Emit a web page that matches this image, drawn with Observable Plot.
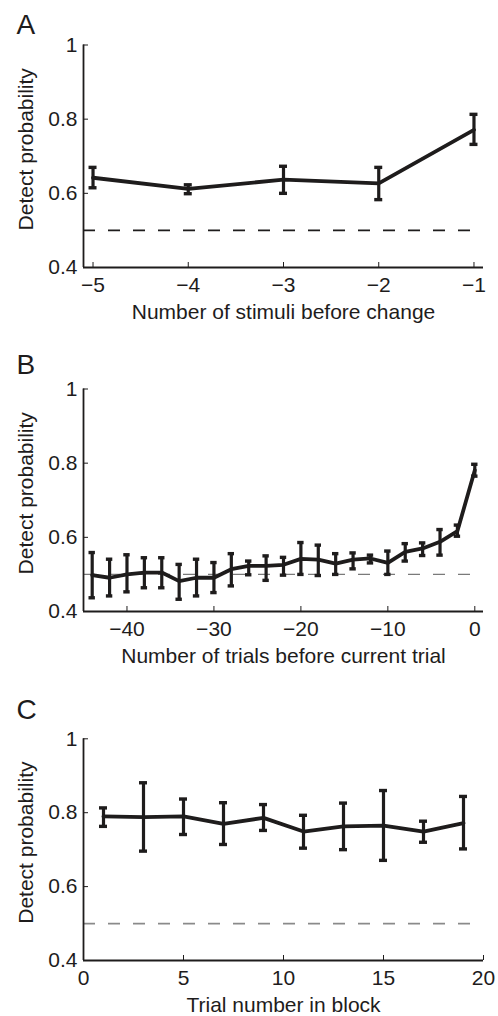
<!DOCTYPE html>
<html><head><meta charset="utf-8">
<script src="https://cdn.jsdelivr.net/npm/d3@7"></script>
<script src="https://cdn.jsdelivr.net/npm/@observablehq/plot@0.6"></script>
<style>
body{margin:0;background:#fff;width:498px;height:1016px;overflow:hidden}
#chart>div{line-height:0}
svg{display:block}
</style></head><body><div id="chart"></div>
<script>
// shared
const yTicks = [0.4, 0.6, 0.8, 1];
const yDomain = [0.4, 1];
const chance = 0.5;
const yLabel = "Detect probability";

// Panel A
const aLetter = "A";
const aX = [-5, -4, -3, -2, -1];
const aMean = [0.642, 0.612, 0.637, 0.627, 0.771];
const aLow = [0.615, 0.599, 0.600, 0.583, 0.732];
const aHigh = [0.670, 0.623, 0.673, 0.670, 0.813];
const aTicks = [-5, -4, -3, -2, -1];
const aDomain = [-5.1, -0.9];
const aLabel = "Number of stimuli before change";

// Panel B
const bLetter = "B";
const bX = [-44, -42, -40, -38, -36, -34, -32, -30, -28, -26, -24, -22, -20, -18, -16, -14, -12, -10, -8, -6, -4, -2, 0];
const bMean = [0.498, 0.491, 0.500, 0.505, 0.505, 0.482, 0.491, 0.491, 0.514, 0.523, 0.523, 0.526, 0.542, 0.540, 0.529, 0.540, 0.543, 0.531, 0.561, 0.570, 0.588, 0.617, 0.781];
const bLow = [0.437, 0.442, 0.453, 0.464, 0.464, 0.433, 0.442, 0.451, 0.469, 0.499, 0.484, 0.498, 0.500, 0.497, 0.500, 0.515, 0.531, 0.500, 0.536, 0.551, 0.552, 0.603, 0.765];
const bHigh = [0.559, 0.541, 0.553, 0.545, 0.545, 0.527, 0.541, 0.532, 0.556, 0.536, 0.550, 0.546, 0.586, 0.579, 0.556, 0.558, 0.552, 0.563, 0.583, 0.585, 0.621, 0.633, 0.797];
const bTicks = [-40, -30, -20, -10, 0];
const bDomain = [-45, 1];
const bLabel = "Number of trials before current trial";

// Panel C
const cLetter = "C";
const cX = [1, 3, 5, 7, 9, 11, 13, 15, 17, 19];
const cMean = [0.790, 0.788, 0.790, 0.770, 0.786, 0.749, 0.763, 0.765, 0.749, 0.772];
const cLow = [0.763, 0.696, 0.741, 0.714, 0.752, 0.704, 0.700, 0.671, 0.720, 0.702];
const cHigh = [0.813, 0.881, 0.837, 0.827, 0.822, 0.793, 0.826, 0.860, 0.777, 0.844];
const cTicks = [0, 5, 10, 15, 20];
const cDomain = [0, 20];
const cLabel = "Trial number in block";

const ink = "#1e1c1c";
const font = "'Liberation Sans', Arial, Helvetica, sans-serif";
const fs = 21;

function panel({letter, xs, mean, low, high, xTicks, xDomain, xLabel, height, marginTop, marginBottom,
                dashColor, dashWidth, cap, letterDy}) {
  const data = xs.map((x, i) => ({x, m: mean[i], lo: low[i], hi: high[i]}));
  return Plot.plot({
    width: 498,
    height,
    marginLeft: 83,
    marginRight: 15,
    marginTop,
    marginBottom,
    style: {fontFamily: font, fontSize: fs + "px", color: ink, background: "white", overflow: "visible"},
    x: {domain: xDomain},
    y: {domain: yDomain},
    marks: [
      Plot.ruleY([chance], {stroke: dashColor, strokeWidth: dashWidth, strokeDasharray: "12,13"}),
      Plot.ruleX(data, {x: "x", y1: "lo", y2: "hi", stroke: ink, strokeWidth: 3.2}),
      Plot.ruleY(data, {y: "lo", x1: "x", x2: "x", insetLeft: -cap, insetRight: -cap, stroke: ink, strokeWidth: 3.4}),
      Plot.ruleY(data, {y: "hi", x1: "x", x2: "x", insetLeft: -cap, insetRight: -cap, stroke: ink, strokeWidth: 3.4}),
      Plot.line(data, {x: "x", y: "m", stroke: ink, strokeWidth: 3.8, strokeLinejoin: "miter"}),
      Plot.ruleX([xDomain[0]], {stroke: ink, strokeWidth: 1.8}),
      Plot.ruleY([yDomain[0]], {stroke: ink, strokeWidth: 1.8}),
      Plot.axisY({ticks: yTicks, tickSize: -5, tickPadding: 11, label: null, stroke: ink,
        tickFormat: d => d === 1 ? "1" : d.toFixed(1), fontSize: fs}),
      Plot.axisX({ticks: xTicks, tickSize: -5, tickPadding: 15, label: null, stroke: ink,
        tickFormat: d => d < 0 ? "\u2212" + Math.abs(d) : String(d), fontSize: fs}),
      Plot.text([yLabel], {frameAnchor: "left", textAnchor: "middle", lineAnchor: "middle", rotate: -90,
        dx: -57.7, dy: -7, fontSize: fs, fill: ink}),
      Plot.text([xLabel], {frameAnchor: "bottom", textAnchor: "middle", lineAnchor: "middle",
        dy: 44.3, fontSize: fs, fill: ink}),
      Plot.text([letter], {frameAnchor: "top-left", textAnchor: "start", lineAnchor: "middle",
        dx: -67, dy: letterDy, fontSize: 28, fill: ink})
    ]
  });
}

const root = document.getElementById("chart");
const mk = (el) => { const d = document.createElement("div"); d.appendChild(el); root.appendChild(d); };
mk(panel({letter: aLetter, xs: aX, mean: aMean, low: aLow, high: aHigh, xTicks: aTicks, xDomain: aDomain, xLabel: aLabel,
  height: 344, marginTop: 44.5, marginBottom: 77, dashColor: ink, dashWidth: 1.8, cap: 4, letterDy: -20}));
mk(panel({letter: bLetter, xs: bX, mean: bMean, low: bLow, high: bHigh, xTicks: bTicks, xDomain: bDomain, xLabel: bLabel,
  height: 350, marginTop: 44.5, marginBottom: 83, dashColor: "#7a7a7a", dashWidth: 1.1, cap: 3.2, letterDy: -24.3}));
mk(panel({letter: cLetter, xs: cX, mean: cMean, low: cLow, high: cHigh, xTicks: cTicks, xDomain: cDomain, xLabel: cLabel,
  height: 322, marginTop: 44.3, marginBottom: 56, dashColor: "#8a8a8a", dashWidth: 1.8, cap: 4, letterDy: -29.1}));
</script></body></html>
